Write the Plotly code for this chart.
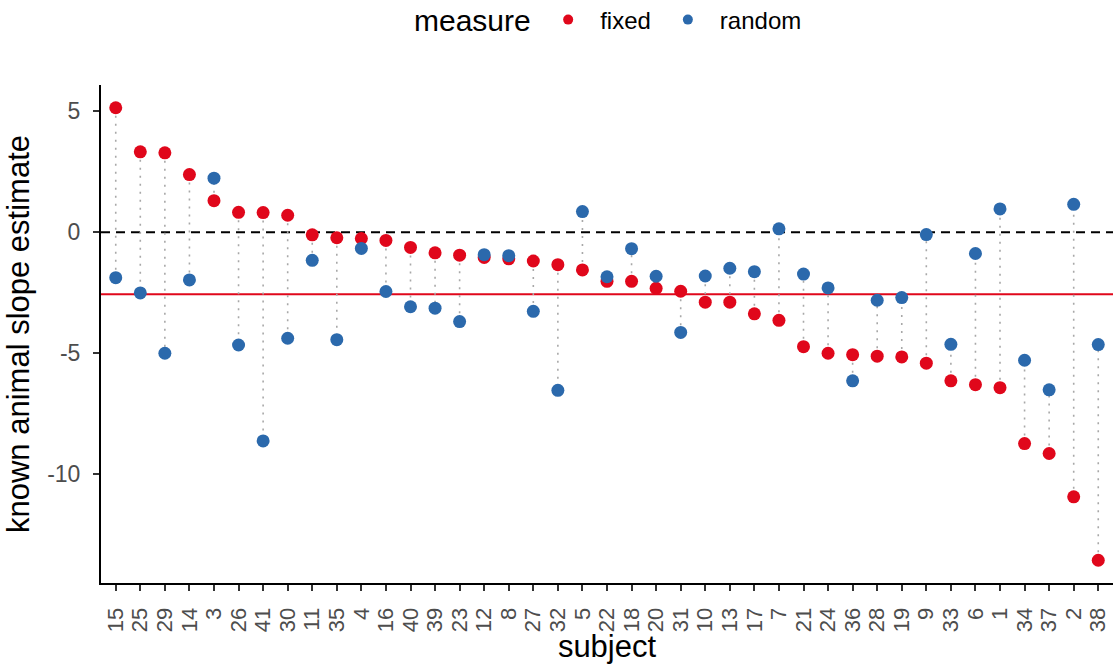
import plotly.graph_objects as go

subjects = ["15","25","29","14","3","26","41","30","11","35","4","16","40","39","23","12","8","27","32","5",
            "22","18","20","31","10","13","17","7","21","24","36","28","19","9","33","6","1","34","37","2","38"]
fixed = [5.14, 3.32, 3.28, 2.38, 1.30, 0.82, 0.81, 0.70, -0.11, -0.23, -0.26, -0.34, -0.63, -0.85, -0.95,
         -1.04, -1.10, -1.19, -1.34, -1.56, -2.03, -2.03, -2.32, -2.44, -2.89, -2.89, -3.37, -3.64, -4.73,
         -5.00, -5.06, -5.12, -5.15, -5.41, -6.14, -6.30, -6.42, -8.73, -9.14, -10.93, -13.55]
random_ = [-1.88, -2.51, -5.00, -1.97, 2.23, -4.66, -8.62, -4.38, -1.16, -4.44, -0.67, -2.45, -3.08, -3.14, -3.69,
           -0.93, -0.97, -3.27, -6.53, 0.85, -1.84, -0.68, -1.82, -4.14, -1.81, -1.49, -1.63, 0.14, -1.73,
           -2.30, -6.14, -2.81, -2.70, -0.10, -4.63, -0.88, 0.96, -5.29, -6.51, 1.15, -4.64]
mean_fixed = -2.56
y_ticks = [-10, -5, 0, 5]
y_tick_text = ["-10", "-5", "0", "5"]

RED = "#E0071B"
BLUE = "#2B69AC"
FONT = "Liberation Sans"

seg_x, seg_y = [], []
for s, f, r in zip(subjects, fixed, random_):
    seg_x += [s, s, None]
    seg_y += [f, r, None]

fig = go.Figure()
fig.add_trace(go.Scatter(x=seg_x, y=seg_y, mode="lines", showlegend=False, hoverinfo="skip",
                         line=dict(color="#A8A8A8", width=1.6, dash="2px,6px")))
fig.add_trace(go.Scatter(x=subjects, y=fixed, mode="markers", showlegend=False,
                         marker=dict(color=RED, size=13)))
fig.add_trace(go.Scatter(x=subjects, y=random_, mode="markers", showlegend=False,
                         marker=dict(color=BLUE, size=13)))
# legend-only entries with smaller symbols
fig.add_trace(go.Scatter(x=[None], y=[None], mode="markers", name="fixed",
                         marker=dict(color=RED, size=10)))
fig.add_trace(go.Scatter(x=[None], y=[None], mode="markers", name="random",
                         marker=dict(color=BLUE, size=10)))

fig.add_shape(type="line", xref="paper", x0=0, x1=1, yref="y", y0=0, y1=0,
              line=dict(color="black", width=2, dash="9px,6px"), layer="below")
fig.add_shape(type="line", xref="paper", x0=0, x1=1, yref="y", y0=mean_fixed, y1=mean_fixed,
              line=dict(color=RED, width=2), layer="below")

# legend title as annotation so it shares the item centre line
fig.add_annotation(text="measure", xref="paper", yref="paper", x=0.307, y=1.1305,
                   xanchor="left", yanchor="middle", showarrow=False,
                   font=dict(size=30, color="black", family=FONT))

fig.update_layout(
    width=1115, height=664,
    margin=dict(l=101, r=2, t=85, b=81, autoexpand=False),
    plot_bgcolor="white", paper_bgcolor="white",
    font=dict(family=FONT, color="black"),
    legend=dict(orientation="h", x=0.43, xanchor="left", y=1.1305, yanchor="middle",
                font=dict(size=24, color="black"), itemwidth=54),
)
fig.update_xaxes(
    type="category", categoryorder="array", categoryarray=subjects,
    tickmode="array", tickvals=subjects, ticktext=subjects,
    range=[-0.6, len(subjects) - 0.4], automargin=False,
    showline=True, linecolor="black", linewidth=2,
    ticks="outside", ticklen=6, tickwidth=2, tickcolor="#333333", ticklabelstandoff=8,
    tickangle=-90, tickfont=dict(size=22, color="#4D4D4D"),
    showgrid=False, zeroline=False,
    title=dict(text="subject", font=dict(size=31, color="black"), standoff=4),
)
fig.update_yaxes(
    range=[-14.49, 6.08], automargin=False,
    tickvals=y_ticks, ticktext=y_tick_text,
    showline=True, linecolor="black", linewidth=2,
    ticks="outside", ticklen=6, tickwidth=2, tickcolor="#333333", ticklabelstandoff=8,
    tickfont=dict(size=23, color="#4D4D4D"),
    showgrid=False, zeroline=False,
    title=dict(text="known animal slope estimate", font=dict(size=31, color="black"), standoff=8),
)

fig.write_html("out.html", config={"displayModeBar": False},
               post_script="document.body.style.margin='0';")
